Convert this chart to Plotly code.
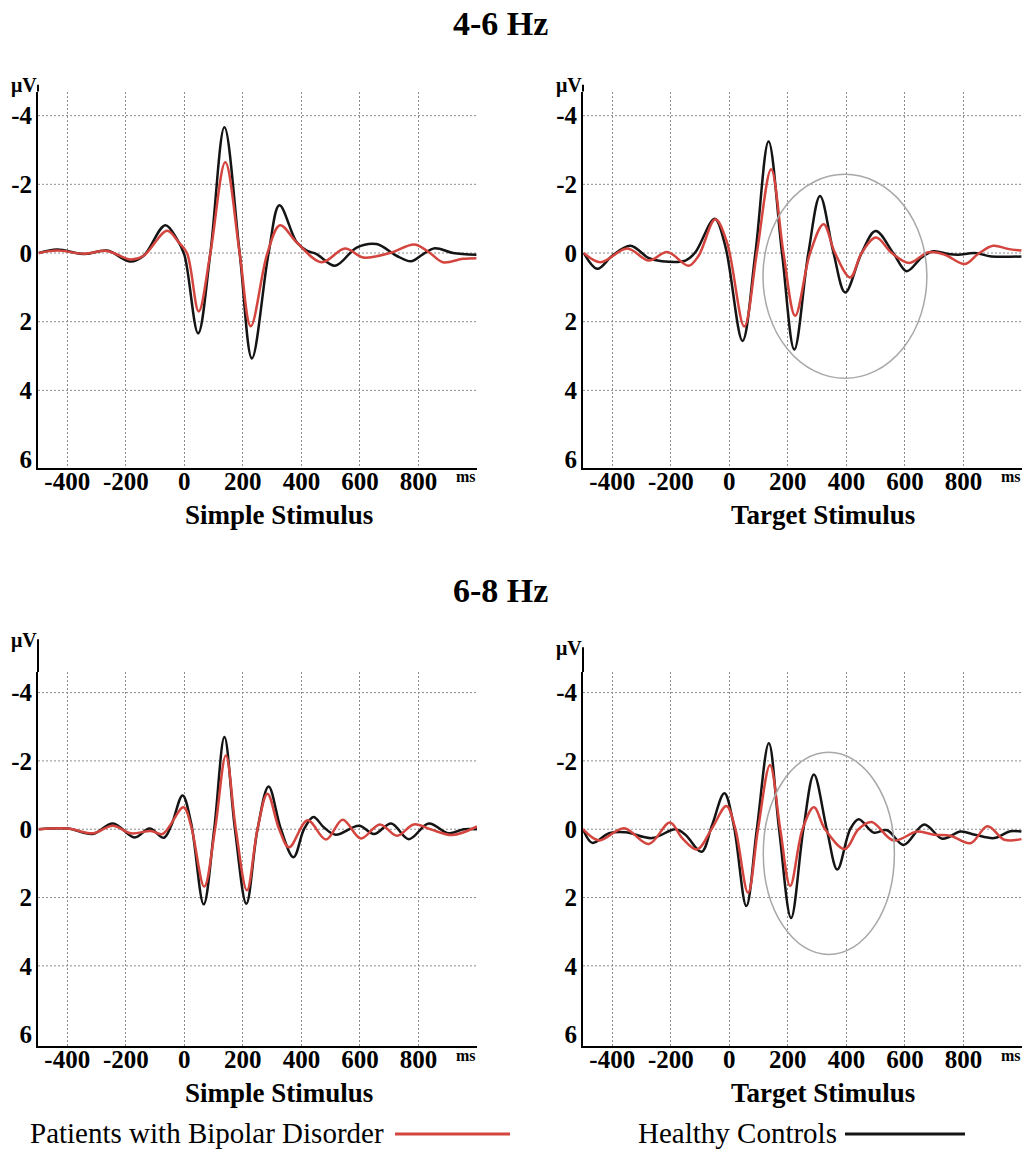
import plotly.graph_objects as go

W, H = 1026, 1160

# ---------------- data (ms, µV; negative plotted upward) ----------------
# 4-6 Hz, Simple Stimulus
t_46s_hc = [-497, -434, -343, -264, -184, -139, -65, -25, 0, 47, 89, 137, 189, 231, 288, 325, 384, 418, 452, 515, 589, 657, 725, 776, 816, 856, 918, 998]
v_46s_hc = [0, -0.1, 0.03, -0.07, 0.25, 0.08, -0.81, -0.4, 0.05, 2.34, 0, -3.66, 0, 3.07, 0, -1.39, -0.31, -0.07, 0.03, 0.37, -0.16, -0.26, 0.08, 0.24, 0.03, -0.14, 0, 0.05]
t_46s_bd = [-497, -434, -343, -264, -184, -139, -59, -19, 9, 49, 89, 140, 189, 227, 284, 327, 384, 469, 549, 611, 702, 787, 839, 884, 952, 998]
v_46s_bd = [0, -0.07, 0.02, -0.06, 0.19, 0.08, -0.65, -0.31, 0, 1.7, 0, -2.64, 0, 2.13, 0, -0.81, -0.31, 0.27, -0.13, 0.13, 0, -0.25, 0, 0.27, 0.17, 0.15]

# 4-6 Hz, Target Stimulus
t_46t_hc = [-497, -451, -400, -338, -275, -230, -150, -116, -50, -14, 45, 89, 134, 180, 222, 270, 310, 356, 396, 452, 500, 560, 606, 657, 697, 748, 782, 839, 895, 998]
v_46t_hc = [0, 0.46, 0.08, -0.21, 0.15, 0.24, 0.22, -0.02, -1.0, -0.21, 2.56, 0, -3.25, 0, 2.81, 0, -1.66, 0, 1.15, 0, -0.64, 0, 0.53, 0.13, -0.05, 0.03, 0.05, 0, 0.1, 0.1]
t_46t_bd = [-497, -440, -349, -275, -212, -139, -105, -48, -8, 51, 94, 143, 185, 225, 276, 322, 361, 413, 452, 501, 555, 615, 680, 736, 805, 850, 901, 952, 998]
v_46t_bd = [0, 0.27, -0.13, 0.22, -0.03, 0.37, 0.08, -0.98, -0.31, 2.14, 0, -2.44, 0, 1.83, 0, -0.84, 0, 0.71, 0, -0.45, 0, 0.29, -0.02, 0.05, 0.32, 0.03, -0.21, -0.12, -0.07]

# 6-8 Hz, Simple Stimulus
t_68s_hc = [-497, -398, -313, -244, -170, -119, -70, -45, -6, 23, 66, 102, 137, 173, 212, 250, 288, 330, 373, 409, 441, 477, 517, 597, 648, 707, 767, 835, 903, 955, 1000]
v_68s_hc = [0, -0.02, 0.14, -0.17, 0.24, -0.02, 0.25, -0.1, -0.99, -0.19, 2.2, 0, -2.7, 0, 2.18, 0, -1.25, 0, 0.82, 0, -0.36, -0.05, 0.16, -0.1, 0.14, -0.17, 0.29, -0.17, 0.12, 0, 0]
t_68s_bd = [-497, -398, -313, -244, -182, -114, -74, -3, 23, 68, 105, 142, 176, 214, 250, 284, 324, 358, 421, 484, 541, 603, 668, 727, 784, 841, 915, 1000]
v_68s_bd = [0, -0.02, 0.12, -0.1, 0.12, 0.05, 0.14, -0.64, -0.1, 1.68, 0, -2.16, 0, 1.79, 0, -1.04, 0, 0.53, -0.26, 0.3, -0.28, 0.27, -0.14, 0.19, -0.14, 0, 0.17, -0.08]

# 6-8 Hz, Target Stimulus
t_68t_hc = [-500, -468, -411, -355, -264, -184, -150, -95, -59, -17, 15, 58, 94, 135, 170, 211, 253, 289, 333, 369, 413, 442, 493, 539, 596, 666, 728, 790, 839, 905, 960, 998]
v_68t_hc = [0, 0.4, 0.12, 0.09, 0.26, 0, 0.16, 0.66, -0.12, -1.05, -0.12, 2.25, 0, -2.52, 0, 2.6, 0, -1.6, 0, 1.18, 0, -0.29, 0.1, 0.03, 0.46, -0.14, 0.28, 0.07, 0.16, 0.26, 0.06, 0.07]
t_68t_bd = [-500, -445, -360, -275, -203, -161, -110, -59, -10, 20, 64, 98, 139, 174, 208, 250, 289, 327, 395, 441, 486, 561, 642, 700, 756, 824, 882, 940, 998]
v_68t_bd = [0, 0.33, -0.03, 0.43, -0.2, 0.26, 0.59, -0.03, -0.68, -0.03, 1.86, 0, -1.88, 0, 1.66, 0, -0.64, 0, 0.58, 0, -0.21, 0.33, 0.07, 0.16, 0.19, 0.41, -0.09, 0.31, 0.29]

X_TICKS = [-400, -200, 0, 200, 400, 600, 800]
X_TICK_TEXT = ["-400", "-200", "0", "200", "400", "600", "800"]
Y_TICKS = [-4, -2, 0, 2, 4, 6]
Y_TICK_TEXT = ["-4", "-2", "0", "2", "4", "6"]
Y_GRID = [-4, -2, 0, 2, 4]

BAND_TITLES = ["4-6 Hz", "6-8 Hz"]
STIM_TITLES = ["Simple Stimulus", "Target Stimulus"]
LEGEND_NAMES = ["Patients with Bipolar Disorder", "Healthy Controls"]

# highlighted windows (ms, µV) on the target-stimulus panels
ELLIPSE_46 = dict(x0=115, x1=675, y0=-2.29, y1=3.65)
ELLIPSE_68 = dict(x0=116, x1=564, y0=-2.25, y1=3.67)

# ---------------- styling / layout ----------------
RED = "#d3453e"
BLACK = "#141414"
GRID = "#8c8c8c"
SERIF = "Liberation Serif"


def fx(p):
    return p / W


def fy(p):
    return 1 - p / H


# panel pixel boxes: (left, right, top, bottom), y-range, axis-line top
panels = [
    dict(box=(38, 477, 92, 470), yr=[6.26, -4.7], top=85,
         hc=(t_46s_hc, v_46s_hc), bd=(t_46s_bd, v_46s_bd), ell=None),
    dict(box=(583, 1022, 92, 470), yr=[6.26, -4.7], top=85,
         hc=(t_46t_hc, v_46t_hc), bd=(t_46t_bd, v_46t_bd), ell=ELLIPSE_46),
    dict(box=(38, 477, 675, 1051), yr=[6.36, -4.6], top=642,
         hc=(t_68s_hc, v_68s_hc), bd=(t_68s_bd, v_68s_bd), ell=None),
    dict(box=(583, 1022, 675, 1051), yr=[6.36, -4.6], top=650,
         hc=(t_68t_hc, v_68t_hc), bd=(t_68t_bd, v_68t_bd), ell=ELLIPSE_68),
]

fig = go.Figure()
shapes = []
annotations = []
layout = dict(
    width=W, height=H, autosize=False,
    margin=dict(l=0, r=0, t=0, b=0),
    paper_bgcolor="white", plot_bgcolor="white",
    showlegend=False,
)

tick_font = dict(family=SERIF, size=25, color="black", weight="bold")

for i, p in enumerate(panels):
    n = "" if i == 0 else str(i + 1)
    xa, ya = "x" + n, "y" + n
    l, r, t, b = p["box"]
    layout["xaxis" + n] = dict(
        domain=[fx(l), fx(r)], range=[-500, 1000], anchor=ya,
        tickmode="array", tickvals=X_TICKS, ticktext=X_TICK_TEXT,
        showgrid=True, gridcolor=GRID, gridwidth=1, griddash="2px,2px",
        zeroline=False, showline=True, linecolor="black", linewidth=2,
        ticks="", ticklabelstandoff=-10, tickfont=tick_font, fixedrange=True,
    )
    layout["yaxis" + n] = dict(
        domain=[fy(b), fy(t)], range=p["yr"], anchor=xa,
        tickmode="array", tickvals=Y_TICKS, ticktext=Y_TICK_TEXT,
        showgrid=False, zeroline=False, showline=True, linecolor="black", linewidth=2,
        ticks="", ticklabelstandoff=-1, tickfont=tick_font, fixedrange=True,
    )
    # horizontal dotted grid
    for gv in Y_GRID:
        shapes.append(dict(type="line", xref=xa + " domain", x0=0, x1=1, yref=ya, y0=gv, y1=gv,
                           line=dict(color=GRID, width=1, dash="2px,2px"), layer="below"))
    # y-axis line extension above the plotting area
    shapes.append(dict(type="line", xref="paper", yref="paper", x0=fx(l), x1=fx(l),
                       y0=fy(t), y1=fy(p["top"]), line=dict(color="black", width=2)))
    # highlighted window
    if p["ell"] is not None:
        e = p["ell"]
        shapes.append(dict(type="circle", xref=xa, yref=ya, x0=e["x0"], x1=e["x1"], y0=e["y0"], y1=e["y1"],
                           line=dict(color="#a8a8a8", width=1.5), layer="above"))
    # traces
    fig.add_trace(go.Scatter(x=p["hc"][0], y=p["hc"][1], xaxis=xa, yaxis=ya, mode="lines",
                             line=dict(color=BLACK, width=2.5, shape="spline", smoothing=1.0),
                             name=LEGEND_NAMES[1], hoverinfo="skip"))
    fig.add_trace(go.Scatter(x=p["bd"][0], y=p["bd"][1], xaxis=xa, yaxis=ya, mode="lines",
                             line=dict(color=RED, width=2.5, shape="spline", smoothing=1.0),
                             name=LEGEND_NAMES[0], hoverinfo="skip"))
    # µV label
    annotations.append(dict(text="μV", x=fx(l - 14), y=fy(p["top"] + 1), xref="paper", yref="paper",
                            xanchor="center", yanchor="middle", showarrow=False,
                            font=dict(family=SERIF, size=20, color="black", weight="bold")))
    # ms label
    annotations.append(dict(text="ms", x=fx(r - 11), y=fy(b + 9), xref="paper", yref="paper",
                            xanchor="center", yanchor="middle", showarrow=False,
                            font=dict(family=SERIF, size=16, color="black", weight="bold")))
    # stimulus title
    annotations.append(dict(text=STIM_TITLES[i % 2], x=fx(279 if i % 2 == 0 else 823), y=fy(b + 47),
                            xref="paper", yref="paper", xanchor="center", yanchor="middle",
                            showarrow=False, font=dict(family=SERIF, size=27, color="black", weight="bold")))

# band titles
for k, yy in enumerate([24, 593]):
    annotations.append(dict(text=BAND_TITLES[k], x=fx(500), y=fy(yy), xref="paper", yref="paper",
                            xanchor="center", yanchor="middle", showarrow=False,
                            font=dict(family=SERIF, size=34, color="black", weight="bold")))

# legend (text followed by line sample)
annotations.append(dict(text=LEGEND_NAMES[0], x=fx(28), y=fy(1138), xref="paper", yref="paper",
                        xanchor="left", yanchor="middle", showarrow=False,
                        font=dict(family=SERIF, size=29, color="black")))
annotations.append(dict(text=LEGEND_NAMES[1], x=fx(636), y=fy(1138), xref="paper", yref="paper",
                        xanchor="left", yanchor="middle", showarrow=False,
                        font=dict(family=SERIF, size=29, color="black")))
shapes.append(dict(type="line", xref="paper", yref="paper", x0=fx(395), x1=fx(510), y0=fy(1139), y1=fy(1139),
                   line=dict(color=RED, width=3)))
shapes.append(dict(type="line", xref="paper", yref="paper", x0=fx(845), x1=fx(965), y0=fy(1139), y1=fy(1139),
                   line=dict(color=BLACK, width=3)))

layout["shapes"] = shapes
layout["annotations"] = annotations
fig.update_layout(**layout)

fig.write_html("out.html", config={"displayModeBar": False, "staticPlot": True},
               post_script="document.body.style.margin='0';document.body.style.overflow='hidden';")
